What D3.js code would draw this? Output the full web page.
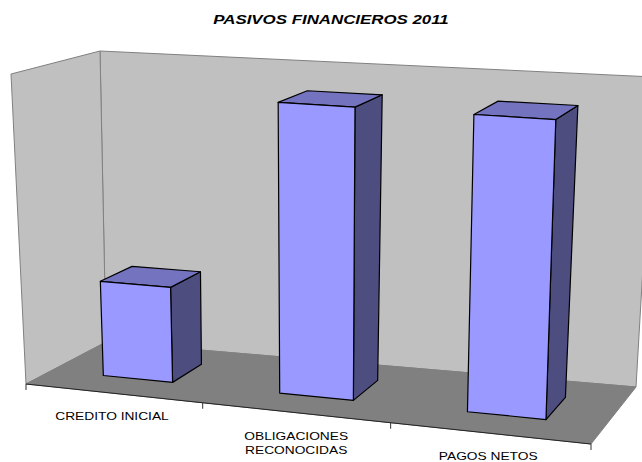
<!DOCTYPE html>
<html>
<head>
<meta charset="utf-8">
<script src="https://cdn.jsdelivr.net/npm/d3@7"></script>
<style>
body { margin: 0; background: #fff; }
text { font-family: "Liberation Sans", Arial, sans-serif; }
</style>
</head>
<body>
<div id="the_chart"></div>
<script>
const title = "PASIVOS FINANCIEROS 2011";
const categories = ["CREDITO INICIAL", "OBLIGACIONES RECONOCIDAS", "PAGOS NETOS"];
const categoryLines = [["CREDITO INICIAL"], ["OBLIGACIONES", "RECONOCIDAS"], ["PAGOS NETOS"]];
const values = [30.8, 93, 93];
const axisMax = 100;

const w = 642, h = 462;
// the original picture was stretched sideways, the text too
const text_stretch = 1.25;

// floor corners on the screen and how far up each wall corner goes
const floorA = [26, 384], floorB = [591, 444], floorC = [106, 342], floorD = [636, 387];
const upA = [-15, -310], upB = [11, -332], upC = [-6, -291], upD = [18, -310];
const perspective = 0.91;

const xscale = d3.scaleBand().domain(categories).range([0, 1])
    .paddingInner(0.6).paddingOuter(0.3).align(0.505);
const zscale = d3.scaleBand().domain(["serie"]).range([0, 1]).padding(0.43).align(0.54);
const yscale = d3.scaleLinear().domain([0, axisMax]).range([0, 1]);

function bilinear(a, b, c, d, u, v) {
    return [0, 1].map(i => (1 - v) * ((1 - u) * a[i] + u * b[i]) + v * ((1 - u) * c[i] + u * d[i]));
}

// u across the categories, z into the page, t up the walls (all 0..1)
function project(u, z, t) {
    let fu = u * perspective / (1 + (perspective - 1) * u);
    let f = bilinear(floorA, floorB, floorC, floorD, fu, z);
    let up = bilinear(upA, upB, upC, upD, fu, z);
    return [f[0] + t * up[0], f[1] + t * up[1]];
}

const line = d3.line().curve(d3.curveLinearClosed);

const svg = d3.select("#the_chart").append("svg")
    .attr("width", w)
    .attr("height", h)
    .style("display", "block");

function stretched(x, y, size, str) {
    return svg.append("text")
        .attr("transform", "translate(" + x + "," + y + ") scale(" + text_stretch + ",1)")
        .attr("text-anchor", "middle")
        .attr("font-size", size)
        .attr("fill", "#000")
        .text(str);
}

stretched(331, 24, 13.5, title)
    .attr("font-weight", "bold")
    .attr("font-style", "italic");

function face(points, fill, stroke, sw) {
    svg.append("path")
        .attr("d", line(points))
        .attr("fill", fill)
        .attr("stroke", stroke)
        .attr("stroke-width", sw)
        .attr("stroke-linejoin", "round");
}

// walls and floor
face([project(0, 1, 0), project(1, 1, 0), project(1, 1, 1), project(0, 1, 1)], "#c0c0c0", "#808080", 1);
face([project(0, 0, 0), project(0, 1, 0), project(0, 1, 1), project(0, 0, 1)], "#c0c0c0", "#808080", 1);
face([project(0, 0, 0), project(1, 0, 0), project(1, 1, 0), project(0, 1, 0)], "#808080", "#808080", 1);

// category axis along the front of the floor
let a0 = project(0, 0, 0), a1 = project(1, 0, 0);
svg.append("line")
    .attr("x1", a0[0]).attr("y1", a0[1])
    .attr("x2", a1[0]).attr("y2", a1[1])
    .attr("stroke", "#222").attr("stroke-width", 1);
let tick_pos = d3.range(categories.length + 1).map(i => i * xscale.step());
svg.selectAll("line.tick")
    .data(tick_pos)
    .enter().append("line")
    .attr("class", "tick")
    .attr("x1", d => project(d, 0, 0)[0])
    .attr("y1", d => project(d, 0, 0)[1])
    .attr("x2", d => project(d, 0, 0)[0])
    .attr("y2", d => project(d, 0, 0)[1] + 6)
    .attr("stroke", "#333")
    .attr("stroke-width", 1);

categoryLines.forEach(function (lines, i) {
    let p = project((i + 0.5) * xscale.step(), 0, 0);
    lines.forEach(function (l, j) {
        stretched(p[0] - (lines.length > 1 ? -1 : 1), p[1] + 27 + j * 14, 11, l);
    });
});

// bars
categories.forEach(function (c, i) {
    let u0 = xscale(c), u1 = u0 + xscale.bandwidth();
    let z0 = zscale("serie"), z1 = z0 + zscale.bandwidth();
    let t = yscale(values[i]);
    face([project(u1, z0, 0), project(u1, z1, 0), project(u1, z1, t), project(u1, z0, t)], "#4d4d80", "#000", 1.2);
    face([project(u0, z0, t), project(u1, z0, t), project(u1, z1, t), project(u0, z1, t)], "#7373bf", "#000", 1.2);
    face([project(u0, z0, 0), project(u1, z0, 0), project(u1, z0, t), project(u0, z0, t)], "#9999ff", "#000", 1.2);
});
</script>
</body>
</html>
